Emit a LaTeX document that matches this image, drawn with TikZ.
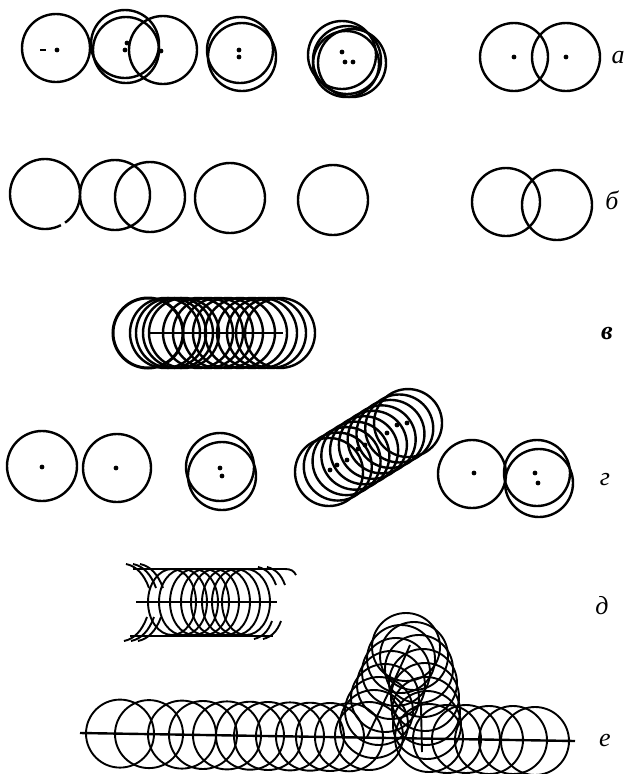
\documentclass[tikz,border=0pt]{standalone}
\usepackage{fontspec}
\newfontfamily\tagfont{Liberation Serif}
\usetikzlibrary{positioning}
\begin{document}
\begin{tikzpicture}[x=1pt,y=-1pt,
  ring/.style={line width=2.4pt},
  coil/.style={line width=1.9pt},
  spot/.style={fill=black},
  tag/.style={font=\tagfont\itshape\fontsize{26}{28}\selectfont,inner sep=0pt}]
\useasboundingbox (0,0) rectangle (626,774);
% row a
\foreach \x/\y/\r in {56/48/34,125/44/34,126/50/33,163/50/34,240/50/33,242/57/34,
  342/55/34,347/60/34,352/63/34,346/64/33,514/57/34,566/57/34}
  \draw[ring] (\x,\y) circle[radius=\r];
\foreach \x/\y in {57/50,127/43,125/50,161/51,239/50,239/57,342/52,345/62,353/62,514/57,566/57}
  \fill[spot] (\x,\y) circle[radius=2.4];
\draw[line width=1.4pt] (40,50) -- (46,50);
\node[tag] (tagA) at (618,58) {а};
% row b
\draw[ring] (45,194) ++(63:35) arc[start angle=63,end angle=415,radius=35];
\foreach \x/\y/\r in {115/195/35,150/197/35,230/198/35,333/200/35,506/202/34,557/205/35}
  \draw[ring] (\x,\y) circle[radius=\r];
\node[tag] (tagB) at (612,200) {б};
% row v
\draw[line width=3pt] (148,333) circle[radius=35];
\foreach \x in {165,171,178,184,198,208,218,228,240,252,262,271,280}
  \draw[ring] (\x,333) circle[radius=35];
\draw[line width=2.4pt] (148,333) -- (283,333);
\node[tag,font=\tagfont\bfseries\itshape\fontsize{26}{28}\selectfont] (tagV) at (607,333) {в};
% row g
\foreach \x/\y/\r in {42/466/35,117/468/34,220/467/34,222/476/34,472/474/34,537/473/33,539/483/34}
  \draw[ring] (\x,\y) circle[radius=\r];
\foreach \i in {0,...,9}
  \draw[ring] ({329+8.78*\i},{472-5.44*\i}) circle[radius=34];
\foreach \x/\y in {42/467,116/468,220/468,222/476,330/470,337/465,347/460,358/449,
  365/445,387/433,397/425,407/423,474/473,535/473,538/483}
  \fill[spot] (\x,\y) circle[radius=2.4];
\node[tag] (tagG) at (605,480) {г};
% row d
\draw[coil] (133,569) -- (285,569) .. controls (291,569) and (294,571) .. (296,575);
\draw[coil] (136,602) -- (277,602);
\draw[coil] (130,636) -- (273,636);
\foreach \x in {172,183,194,205,215,226,236,246}
  \draw[coil] (\x,602) ellipse[x radius=24,y radius=33];
\foreach \d in {0,7,14} {
  \draw[coil] ({126+\d},564) .. controls ({136+\d},566) and ({144+\d},574) .. ({149+\d},588);
  \draw[coil] ({124+\d},641) .. controls ({134+\d},639) and ({142+\d},631) .. ({147+\d},617);
}
\foreach \d in {0,9} {
  \draw[coil] ({258+\d},567) .. controls ({266+\d},569) and ({272+\d},574) .. ({276+\d},585);
  \draw[coil] ({254+\d},639) .. controls ({262+\d},637) and ({268+\d},632) .. ({272+\d},621);
}
\node[tag] (tagD) at (602,606) {д};
% row e
\foreach \x/\y in {120/733.6,149/734.1,182/734.6,203/735,227/735.4,250/735.7,268/736,
  290/736.4,310/736.7,330/737,349/737.3,
  369/736,374/724,379/711,385/698,391/685,396/672,401/659,406/647,
  414/656,419/669,423/683,425/697,426/711,427/725,429/738,
  447/739,466/739,489/740,513/740,535/741}
  \draw[coil] (\x,\y) circle[radius=34];
\draw[line width=2.4pt] (80,733) -- (575,741);
\draw[coil] (410,645) .. controls (396,678) and (381,708) .. (367,737);
\draw[coil] (421,706) -- (422,752);
\node[tag] (tagE) at (605,740) {е};
\end{tikzpicture}
\end{document}
